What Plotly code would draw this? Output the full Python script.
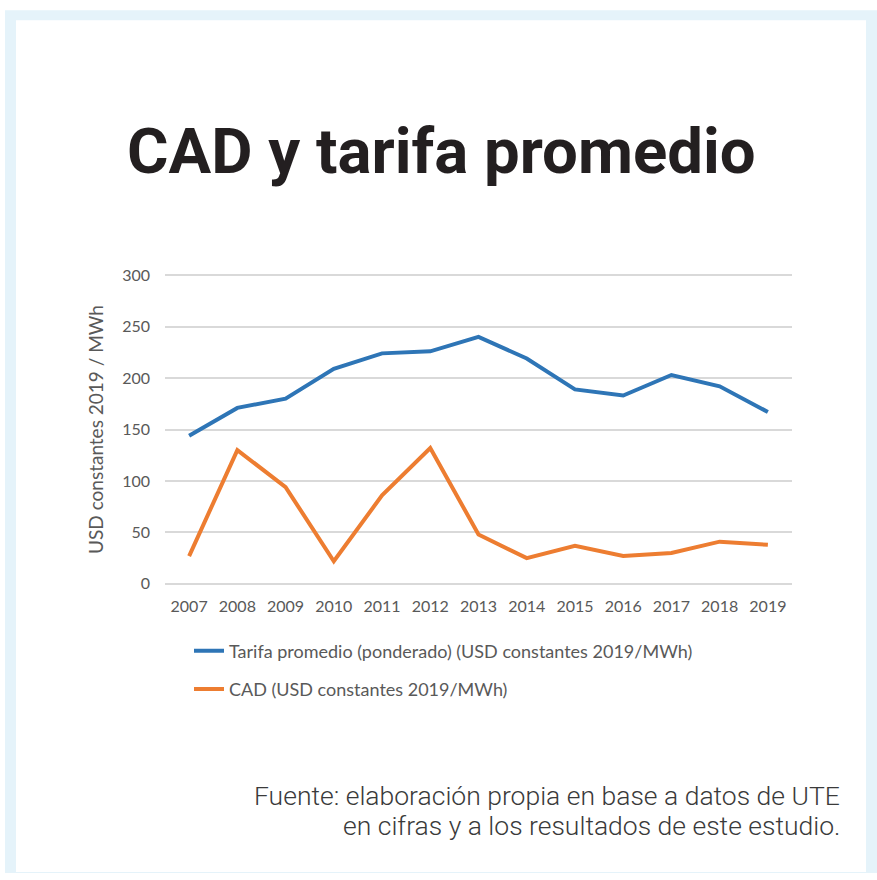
import plotly.graph_objects as go

years = ["2007", "2008", "2009", "2010", "2011", "2012", "2013",
         "2014", "2015", "2016", "2017", "2018", "2019"]
tarifa = [144, 171, 180, 209, 224, 226, 240, 219, 189, 183, 203, 192, 167]
cad = [27, 130, 94, 22, 86, 132, 48, 25, 37, 27, 30, 41, 38]

name_tarifa = "Tarifa promedio (ponderado) (USD constantes 2019/MWh)"
name_cad = "CAD (USD constantes 2019/MWh)"
title_text = "CAD y tarifa promedio"
y_title = "USD constantes 2019 / MWh"
source_line1 = "Fuente: elaboración propia en base a datos de UTE"
source_line2 = "en cifras y a los resultados de este estudio."

W, H = 877, 880
BLUE = "#2e75b6"
ORANGE = "#ed7d31"
GRAY = "#595959"
FONT = "Lato"

fig = go.Figure()
fig.add_trace(go.Scatter(x=years, y=tarifa, mode="lines", name=name_tarifa,
                         line=dict(color=BLUE, width=4), legendgroup="a"))
fig.add_trace(go.Scatter(x=years, y=cad, mode="lines", name=name_cad,
                         line=dict(color=ORANGE, width=4), legendgroup="b"))


def px(x):
    return x / W


def py(y):
    # screen-space y (pixels from top) -> paper fraction, compensating
    # for the vertical offset/scale observed in the captured picture
    actual = (y - 7.7) / 0.9825
    return 1 - actual / H


fig.update_layout(
    width=W, height=H,
    margin=dict(l=0, r=0, t=0, b=0),
    paper_bgcolor="white",
    plot_bgcolor="rgba(0,0,0,0)",
    font=dict(family=FONT, color=GRAY, size=16),
    showlegend=True,
    legend=dict(
        x=px(189), y=1 - 635 / H, xanchor="left", yanchor="top",
        orientation="v", tracegroupgap=12,
        font=dict(family=FONT, size=18, color=GRAY),
        bgcolor="rgba(0,0,0,0)",
    ),
    xaxis=dict(
        domain=[px(165), px(792)],
        type="category",
        range=[-0.5, 12.5],
        showgrid=False, showline=False, zeroline=False,
        ticks="", ticklabelstandoff=10,
        tickfont=dict(family=FONT, size=16, color=GRAY),
        anchor="y",
    ),
    yaxis=dict(
        domain=[py(584.5), py(272.5)],
        range=[-1.5, 301.5], tickvals=[0, 50, 100, 150, 200, 250, 300],
        showgrid=True, gridcolor="#d9d9d9", gridwidth=1.5,
        zeroline=False, showline=False, ticks="",
        ticklabelstandoff=14,
        tickfont=dict(family=FONT, size=16, color=GRAY),
        title=dict(text=y_title, font=dict(family=FONT, size=19, color=GRAY), standoff=13),
    ),
    shapes=[
        dict(type="rect", xref="paper", yref="paper", layer="below",
             x0=px(5), x1=1.0, y0=0.0, y1=min(1.0, py(9)),
             fillcolor="#e5f3fa", line=dict(width=0)),
        dict(type="rect", xref="paper", yref="paper", layer="below",
             x0=px(16), x1=px(866), y0=1 - 879 / H, y1=py(19),
             fillcolor="white", line=dict(width=0)),
    ],
    annotations=[
        dict(text="<b>" + title_text + "</b>", xref="paper", yref="paper",
             x=px(441), y=py(150), xanchor="center", yanchor="middle",
             showarrow=False,
             font=dict(family="Roboto", size=63.5, color="#231f20")),
        dict(text=source_line1, xref="paper", yref="paper",
             x=px(842), y=1 - 801 / H, xanchor="right", yanchor="middle",
             showarrow=False,
             font=dict(family="Roboto", size=26.5, color="#3a3a3a", weight=300)),
        dict(text=source_line2, xref="paper", yref="paper",
             x=px(842), y=1 - 832 / H, xanchor="right", yanchor="middle",
             showarrow=False,
             font=dict(family="Roboto", size=26.5, color="#3a3a3a", weight=300)),
    ],
)

fig.write_html("out.html",
               config={"displayModeBar": False},
               post_script=("document.documentElement.style.margin='0';"
                            "document.body.style.margin='0';"
                            "document.body.style.overflow='hidden';"
                            "var d=document.getElementById('{plot_id}');"
                            "d.style.position='fixed';d.style.left='0px';d.style.top='0px';"))
